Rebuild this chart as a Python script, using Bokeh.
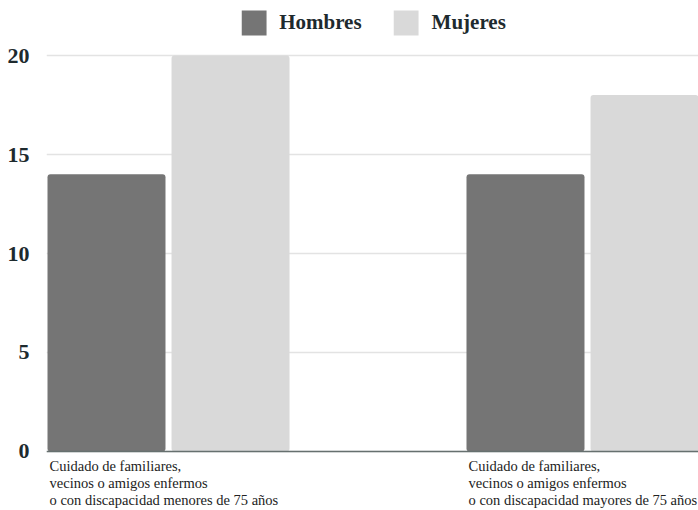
import numpy as np
from bokeh.plotting import figure
from bokeh.models import ColumnDataSource, Range1d, FixedTicker, Span, Legend, LegendItem
from bokeh.core.properties import value
from bokeh.embed import file_html
from bokeh.resources import INLINE

categories = [
    "Cuidado de familiares,\n vecinos o amigos enfermos\no con discapacidad menores de 75 años",
    "Cuidado de familiares,\n vecinos o amigos enfermos\no con discapacidad mayores de 75 años",
]
hombres = [14, 14]
mujeres = [20, 18]
y_ticks = [0, 5, 10, 15, 20]

idx = np.arange(len(categories))
bar_w = 0.2816
src = ColumnDataSource(dict(
    xh=idx + 0.1408,
    xm=idx + 0.4368,
    xl=idx.astype(float),
    h=hombres,
    m=mujeres,
    lab=categories,
    zero=[0] * len(categories),
))

p = figure(width=698, height=510, output_backend="svg", toolbar_location=None,
           x_range=Range1d(-0.0024, 1.5537), y_range=Range1d(-2.98, 22.778),
           min_border_left=46, min_border_right=0, min_border_top=0, min_border_bottom=0)
p.outline_line_color = None
p.background_fill_color = "white"
p.border_fill_color = "white"

p.xaxis.visible = False
p.xgrid.visible = False
p.ygrid.ticker = FixedTicker(ticks=y_ticks)
p.ygrid.grid_line_color = "#e3e3e3"
p.ygrid.grid_line_width = 1.5

ax = p.yaxis[0]
ax.ticker = FixedTicker(ticks=y_ticks)
ax.axis_line_color = None
ax.major_tick_line_color = None
ax.minor_tick_line_color = None
ax.major_label_standoff = 11
ax.major_label_text_font = "Liberation Serif"
ax.major_label_text_font_style = "bold"
ax.major_label_text_font_size = "22px"
ax.major_label_text_color = "#1e2a2e"

rh = p.vbar(x="xh", top="h", width=bar_w, bottom=0, source=src,
            fill_color="#757575", line_color=None, border_radius=3)
rm = p.vbar(x="xm", top="m", width=bar_w, bottom=0, source=src,
            fill_color="#d9d9d9", line_color=None, border_radius=3)

p.add_layout(Span(location=0, dimension="width", line_color="#66706f", line_width=1.5))

p.text(x="xl", y="zero", text="lab", source=src, text_align="left", text_baseline="top",
       x_offset=2, y_offset=7, text_font=value("Liberation Serif"), text_font_size="14.5px",
       text_line_height=1.05, text_color="#222222")

legend = Legend(items=[LegendItem(label="Hombres", renderers=[rh]),
                       LegendItem(label="Mujeres", renderers=[rm])],
                location="top_center", orientation="horizontal")
legend.glyph_width = 31
legend.glyph_height = 31
legend.label_standoff = 10
legend.spacing = 29
legend.padding = 0
legend.margin = 7
legend.border_line_color = None
legend.background_fill_alpha = 0
legend.label_text_font = "Liberation Serif"
legend.label_text_font_style = "bold"
legend.label_text_font_size = "21px"
legend.label_text_color = "#1e2a2e"
legend.label_height = 31
p.add_layout(legend)

open("out.html", "w").write(file_html(p, INLINE))
